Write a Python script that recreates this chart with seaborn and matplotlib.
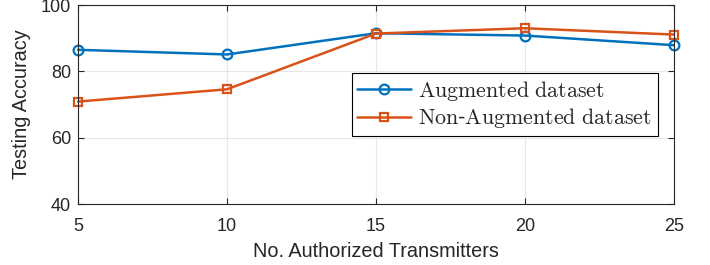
import pandas as pd
import numpy as np
import matplotlib
matplotlib.use("Agg")
import matplotlib.pyplot as plt
import seaborn as sns

transmitters = [5, 10, 15, 20, 25]
augmented = [86.5, 85.1, 91.5, 90.8, 87.9]
non_augmented = [70.9, 74.6, 91.4, 93.0, 91.1]
series_names = [r"$\mathrm{Augmented\ dataset}$", r"$\mathrm{Non}$-$\mathrm{Augmented\ dataset}$"]

df = pd.DataFrame({
    "No. Authorized Transmitters": transmitters * 2,
    "Testing Accuracy": augmented + non_augmented,
    "series": [series_names[0]] * 5 + [series_names[1]] * 5,
})

sns.set_style("whitegrid")
plt.rcParams['font.family'] = ['Liberation Sans', 'DejaVu Sans']
plt.rcParams['mathtext.fontset'] = 'cm'

fig, ax = plt.subplots(figsize=(7.1, 2.65), dpi=100)
fig.subplots_adjust(left=0.11, right=0.949, top=0.981, bottom=0.23)

sns.lineplot(data=df, x="No. Authorized Transmitters", y="Testing Accuracy", hue="series",
             style="series", markers=["o", "s"], dashes=False,
             palette=["#0072BD", "#D95319"], linewidth=1.8, markersize=7,
             markerfacecolor="none", markeredgewidth=1.6, ax=ax)
for line in ax.lines:
    line.set_markerfacecolor("none")
    line.set_markeredgecolor(line.get_color())
    line.set_clip_on(False)
    if line.get_marker() == "s":
        line.set_markersize(6.3)

ax.set_xlim(5, 25)
ax.set_ylim(40, 100)
ax.set_xticks(transmitters)
ax.set_yticks([40, 60, 80, 100])
ax.tick_params(labelsize=13, colors="#262626", direction="in", length=4, width=0.8,
               top=True, right=True, bottom=True, left=True, pad=10)
ax.tick_params(axis="y", pad=5)
ax.set_xlabel("No. Authorized Transmitters", fontsize=14.3, color="#262626", labelpad=5)
ax.set_ylabel("Testing Accuracy", fontsize=14.3, color="#262626", labelpad=7)
ax.grid(True, color="#e6e6e6", linewidth=0.8)
for s in ax.spines.values():
    s.set_color("#262626")
    s.set_linewidth(0.8)

leg = ax.legend(loc="center right", bbox_to_anchor=(0.973, 0.50), fontsize=15.8,
                frameon=True, fancybox=False, handlelength=2.45, borderpad=0.25,
                labelspacing=0.15, handletextpad=0.33, borderaxespad=0)
leg.get_frame().set_edgecolor("black")
leg.get_frame().set_linewidth(0.8)
leg.get_frame().set_alpha(1)
for h in leg.legend_handles:
    h.set_markerfacecolor("none")

fig.savefig("out.png", dpi=100)
